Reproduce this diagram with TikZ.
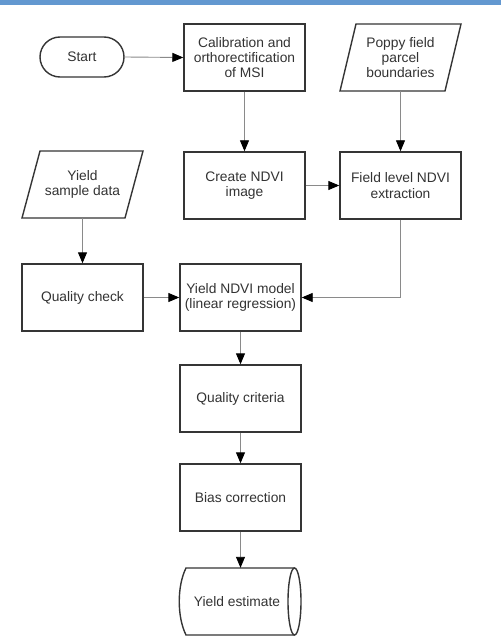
\documentclass[tikz,border=0pt]{standalone}
\usepackage{fontspec}
\setmainfont{Liberation Sans}
\usetikzlibrary{arrows.meta}
\definecolor{barblue}{HTML}{6398D0}
\definecolor{edgegray}{HTML}{353535}
\definecolor{wiregray}{HTML}{8A8A8A}
\definecolor{txt}{HTML}{333333}

\begin{document}
\begin{tikzpicture}[x=1pt,y=-1pt,
  label font/.style={font=\fontsize{13.8}{15.3}\selectfont, text=txt, align=center},
  box/.style={rectangle, draw=edgegray, line width=1.4pt, inner sep=0pt,
              minimum width=121pt, minimum height=67pt, label font},
  ghost/.style={rectangle, inner sep=0pt, minimum width=121pt,
                minimum height=67pt, label font},
  outline/.style={draw=edgegray, line width=1.4pt, line join=miter},
  flow/.style={draw=wiregray, line width=0.9pt,
               -{Triangle[length=11pt,width=9pt,color=black]}}]

\useasboundingbox (0,0) rectangle (501,639);
\fill[white] (0,0) rectangle (501,639);
% header band
\fill[barblue] (0,0) rectangle (501,5);

% terminal
\node[rectangle, draw=edgegray, line width=1.4pt, rounded corners=20pt,
      minimum width=84pt, minimum height=40pt, inner sep=0pt, label font]
      (start) at (82,57) {Start};

% process boxes
\node[box] (calib) at (244.5,57.5) {Calibration and\\orthorectification\\of MSI};
\node[box] (ndvi)  at (244.5,185.5) {Create NDVI\\image};
\node[box] (field) at (400.5,185.5) {Field level NDVI\\extraction};
\node[box] (qc)    at (82.5,297.5) {Quality check};
\node[box] (model) at (240.5,297.5) {Yield NDVI model\\(linear regression)};
\node[box] (crit)  at (240.5,398.5) {Quality criteria};
\node[box] (bias)  at (240.5,497.5) {Bias correction};

% data inputs (parallelograms)
\draw[outline] (356,24) -- (461,24) -- (445,91) -- (340,91) -- cycle;
\node[ghost] (poppy) at (400.5,57.5) {Poppy field\\parcel\\boundaries};
\draw[outline] (40,151) -- (143,151) -- (125,218) -- (22,218) -- cycle;
\node[ghost] (sample) at (82.5,184.5) {Yield\\sample data};

% stored output
\draw[outline] (294.5,568) -- (186,568)
  .. controls (177,586) and (177,617) .. (186,635) -- (294.5,635);
\draw[outline] (294.5,601.5) ellipse [x radius=6.5, y radius=33.5];
\node[ghost] (est) at (240.5,601.5) {};
\node[label font] (estlabel) at (237,601.5) {Yield estimate};

% connectors
\draw[flow] (start.east) -- (calib.west);
\draw[flow] (calib.south) -- (ndvi.north);
\draw[flow] (poppy.south) -- (field.north);
\draw[flow] (ndvi.east) -- (field.west);
\draw[flow] (sample.south) -- (qc.north);
\draw[flow] (qc.east) -- (model.west);
\draw[flow] (field.south) |- (model.east);
\draw[flow] (model.south) -- (crit.north);
\draw[flow] (crit.south) -- (bias.north);
\draw[flow] (bias.south) -- (est.north);
\end{tikzpicture}
\end{document}
